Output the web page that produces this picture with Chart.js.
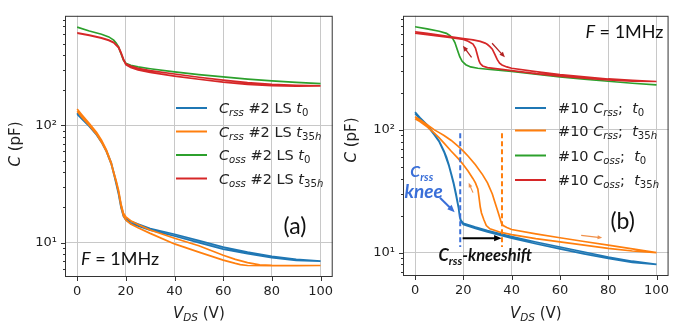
<!DOCTYPE html>
<html>
<head>
<meta charset="utf-8">
<script src="https://cdn.jsdelivr.net/npm/chart.js@4.4.0/dist/chart.umd.min.js"></script>
<style>
  body { margin: 0; background: #fff; }
  #wrap { position: relative; width: 676px; height: 322px; }
  .panel { position: absolute; top: 0; width: 340px; height: 322px; }
</style>
</head>
<body>
<div id="wrap">
  <div class="panel" style="left:0"><canvas id="chartA" width="340" height="322"></canvas></div>
  <div class="panel" style="left:336px"><canvas id="chartB" width="340" height="322"></canvas></div>
</div>
<script>
// tick values
const xTicks = [0, 20, 40, 60, 80, 100];
const yMajor = [10, 100];
const yMinor = [5, 6, 7, 8, 9, 20, 30, 40, 50, 60, 70, 80, 90, 200, 300, 400, 500, 600, 700, 800];

// panel (a): device #2 LS, each sweep goes up to 100 V and back
const aCrss0V = [0, 2, 5, 8, 10, 12, 14, 15, 16, 17, 18, 19, 20, 22, 25, 30, 40, 50, 60, 70, 80, 90, 100,
                 90, 80, 70, 60, 50, 40, 30, 25, 22, 20, 19, 18, 17, 16, 15, 14, 12, 10, 8, 5, 2, 0];
const aCrss0C = [128, 115, 99, 84, 73, 61, 48, 40, 33, 27, 21, 17.5, 16, 15.2, 14.4, 13.2, 11.8, 10.4, 9.15, 8.3, 7.65, 7.2, 6.95,
                 7.05, 7.45, 8.05, 8.8, 10.0, 11.4, 12.8, 13.9, 14.6, 15.6, 16.8, 20, 26, 32, 39, 47, 60, 72, 83, 98, 113, 125];
const aCrss35V = [0, 2, 5, 8, 10, 12, 14, 15, 16, 17, 18, 19, 20, 22, 25, 30, 40, 50, 60, 65, 70, 75, 80, 90, 100,
                  90, 80, 70, 67, 65, 60, 50, 40, 30, 25, 22, 20, 19, 18, 17, 16, 15, 14, 12, 10, 8, 5, 2, 0];
const aCrss35C = [138, 123, 104, 87, 75, 62, 48, 40, 34, 28, 21.5, 17.8, 16.6, 15.4, 14.3, 12.8, 10.9, 9.4, 7.8, 7.2, 6.75, 6.45, 6.4, 6.38, 6.38,
                  6.35, 6.35, 6.38, 6.5, 6.65, 7.1, 8.3, 9.75, 12.0, 13.4, 14.4, 15.6, 17, 20.5, 27, 33, 39, 47, 60, 72, 84, 100, 117, 132];
const aCoss0V = [0, 5, 10, 13, 15, 16, 17, 18, 19, 20, 22, 25, 30, 40, 50, 60, 70, 80, 90, 100];
const aCoss0C = [690, 640, 600, 570, 535, 505, 468, 412, 362, 340, 326, 316, 305, 287, 272, 260, 249, 240, 233, 228];
const aCoss35V = [0, 5, 10, 13, 15, 17, 18, 19, 20, 22, 25, 30, 40, 50, 60, 70, 80, 90, 100,
                  90, 80, 70, 60, 50, 40, 30, 25, 22, 20, 19, 18, 17, 15, 13, 10, 5, 0];
const aCoss35C = [618, 590, 560, 535, 512, 468, 420, 370, 336, 322, 308, 294, 275, 258, 244, 232, 224, 220, 218,
                  217, 219, 224, 234, 248, 264, 284, 298, 312, 330, 365, 415, 462, 508, 532, 556, 586, 614];

// panel (b): device #10
const bCrss0V = [0, 2, 5, 8, 10, 12, 13, 14, 15, 16, 17, 18, 18.5, 19, 20, 25, 30, 40, 50, 60, 70, 80, 90, 100,
                 90, 80, 70, 60, 50, 40, 30, 25, 20, 19, 18.5, 18, 17, 16, 15, 14, 12, 10, 8, 5, 2, 0];
const bCrss0C = [140, 126, 110, 92, 81, 67, 60, 52, 44, 37, 30, 23.5, 19.8, 18.3, 17.3, 16.1, 15.1, 13.5, 12.2, 11.1, 10.1, 9.2, 8.5, 8.0,
                 8.3, 8.95, 9.75, 10.7, 11.8, 13.1, 14.7, 15.7, 16.9, 17.9, 19.5, 23, 29, 36, 43, 51, 66, 80, 91, 108, 123, 136];
const bCrss35V = [0, 2, 5, 8, 10, 12, 15, 18, 20, 22, 25, 28, 30, 32, 33, 34, 35, 35.8, 36.5, 38, 40, 50, 60, 70, 80, 90, 100,
                  90, 80, 70, 60, 50, 40, 35, 31, 29.5, 28.5, 27.5, 27, 26.5, 26, 25, 24, 22, 20, 18, 15, 12, 10, 8, 5, 2, 0];
const bCrss35C = [128, 121, 110, 100, 95, 90, 82, 73, 67, 61, 52, 43, 37, 30, 26, 22.5, 19.5, 17.3, 16.6, 16.0, 15.4, 14.2, 13.2, 12.3, 11.5, 10.7, 10.0,
                  10.3, 10.8, 11.5, 12.2, 13.0, 14.0, 14.7, 15.6, 16.6, 18.5, 21, 23.5, 28, 33, 37, 40, 46, 52, 58, 67, 78, 86, 94, 106, 117, 123];
const bCoss0V = [0, 5, 10, 13, 14.5, 15.5, 16.5, 17.5, 18.5, 19.5, 21, 23, 26, 30, 40, 50, 60, 70, 80, 90, 100];
const bCoss0C = [693, 665, 637, 612, 585, 560, 515, 450, 395, 362, 340, 326, 318, 312, 300, 285, 270, 259, 249, 240, 233];
const bCoss35V = [0, 5, 10, 15, 20, 24, 27, 29, 30, 31, 32, 33, 34, 35, 36, 38, 40, 50, 60, 70, 80, 90, 100,
                  90, 80, 70, 60, 50, 40, 35, 30, 28, 27, 26.5, 26, 25.5, 25, 24, 22, 20, 15, 10, 5, 0];
const bCoss35C = [629, 612, 592, 574, 556, 542, 527, 510, 496, 477, 455, 415, 375, 350, 338, 326, 318, 298, 282, 270, 260, 253, 248,
                  250, 256, 264, 274, 287, 304, 313, 322, 332, 347, 365, 395, 430, 465, 500, 528, 546, 565, 582, 598, 614];

const blue = '#1f77b4', orange = '#ff7f0e', green = '#2ca02c', red = '#d62728';
const gridColor = '#c8c8c8';

Chart.defaults.font.family = 'DejaVu Sans';

// draws text made of pieces: [text, flags] with i = italic, b = bold, s = subscript
function richText(ctx, parts, x, y, size, family, align) {
    const fontFor = function (f) {
        return (f.includes('i') ? 'italic ' : '') + (f.includes('b') ? 'bold ' : '') +
            (f.includes('s') ? size * 0.7 : size) + 'px "' + family + '"';
    };
    let w = 0;
    parts.forEach(function (p) { ctx.font = fontFor(p[1]); w += ctx.measureText(p[0]).width; });
    let cx = align === 'center' ? x - w / 2 : align === 'right' ? x - w : x;
    ctx.textAlign = 'left';
    ctx.textBaseline = 'alphabetic';
    parts.forEach(function (p) {
        ctx.font = fontFor(p[1]);
        ctx.fillText(p[0], cx, y + (p[1].includes('s') ? size * 0.22 : 0));
        cx += ctx.measureText(p[0]).width;
    });
}

function arrow(ctx, x1, y1, x2, y2, color, width, head) {
    const ang = Math.atan2(y2 - y1, x2 - x1);
    ctx.strokeStyle = color;
    ctx.fillStyle = color;
    ctx.lineWidth = width;
    ctx.setLineDash([]);
    ctx.beginPath();
    ctx.moveTo(x1, y1);
    ctx.lineTo(x2 - Math.cos(ang) * head * 0.8, y2 - Math.sin(ang) * head * 0.8);
    ctx.stroke();
    ctx.beginPath();
    ctx.moveTo(x2, y2);
    ctx.lineTo(x2 - head * Math.cos(ang - 0.4), y2 - head * Math.sin(ang - 0.4));
    ctx.lineTo(x2 - head * Math.cos(ang + 0.4), y2 - head * Math.sin(ang + 0.4));
    ctx.closePath();
    ctx.fill();
}

function makePanel(canvasId, cfg) {
    const decor = {
        id: 'decor',
        afterDraw: function (chart) {
            const ctx = chart.ctx, a = chart.chartArea;
            const xs = chart.scales.x, ys = chart.scales.y;
            ctx.save();
            // tick marks
            ctx.strokeStyle = '#333';
            ctx.lineWidth = 1;
            ctx.beginPath();
            xTicks.forEach(function (v) {
                const px = Math.round(xs.getPixelForValue(v)) + 0.5;
                ctx.moveTo(px, a.bottom);
                ctx.lineTo(px, a.bottom + 4);
            });
            ys.ticks.forEach(function (t) {
                const py = Math.round(ys.getPixelForValue(t.value)) + 0.5;
                ctx.moveTo(a.left, py);
                ctx.lineTo(a.left - (yMajor.includes(t.value) ? 4 : 2), py);
            });
            ctx.stroke();
            // frame
            ctx.strokeStyle = '#333';
            ctx.strokeRect(a.left + 0.5, a.top + 0.5, a.right - a.left - 1, a.bottom - a.top - 1);

            // axis titles
            ctx.fillStyle = '#222';
            richText(ctx, [['V', 'i'], ['DS', 'is'], [' (V)', '']], (a.left + a.right) / 2, 318, 15, 'DejaVu Sans', 'center');
            ctx.save();
            ctx.translate(20, cfg.yTitleY);
            ctx.rotate(-Math.PI / 2);
            richText(ctx, [['C', 'i'], [' (pF)', '']], 0, 0, 15, 'DejaVu Sans', 'center');
            ctx.restore();

            // legend
            cfg.legend.forEach(function (row, i) {
                const y = cfg.legendY[i];
                ctx.strokeStyle = cfg.series[i].color;
                ctx.lineWidth = 2;
                ctx.beginPath();
                ctx.moveTo(cfg.legendX, y);
                ctx.lineTo(cfg.legendX + 31, y);
                ctx.stroke();
                ctx.fillStyle = '#222';
                richText(ctx, row, cfg.legendX + 43, y + 5, 14.5, 'DejaVu Sans', 'left');
            });

            if (cfg.extras) cfg.extras(chart, ctx, function (v) { return xs.getPixelForValue(v); },
                function (c) { return ys.getPixelForValue(c); });
            ctx.restore();
        }
    };

    return new Chart(document.getElementById(canvasId), {
        type: 'scatter',
        data: {
            datasets: cfg.series.map(function (s, i) {
                return {
                    data: s.v.map(function (v, k) { return { x: v, y: s.c[k] }; }),
                    borderColor: s.color,
                    backgroundColor: s.color,
                    borderWidth: 1.7,
                    pointRadius: 0,
                    showLine: true,
                    fill: false,
                    tension: 0,
                    order: cfg.series.length - i
                };
            })
        },
        options: {
            responsive: false,
            animation: false,
            devicePixelRatio: 1,
            layout: { padding: { left: 0, top: cfg.top, right: 340 - cfg.right, bottom: 0 } },
            plugins: { legend: { display: false }, tooltip: { enabled: false } },
            scales: {
                x: {
                    type: 'linear',
                    min: -5,
                    max: 105,
                    afterBuildTicks: function (s) { s.ticks = xTicks.map(function (v) { return { value: v }; }); },
                    afterFit: function (s) { s.height = 322 - cfg.bottom; },
                    grid: { color: gridColor, drawTicks: false, lineWidth: 1 },
                    border: { display: false },
                    ticks: { padding: 7, color: '#222', font: { size: 13 }, maxRotation: 0, autoSkip: false }
                },
                y: {
                    type: 'logarithmic',
                    min: cfg.yMin,
                    max: cfg.yMax,
                    afterBuildTicks: function (s) {
                        s.ticks = yMinor.concat(yMajor)
                            .filter(function (v) { return v >= cfg.yMin && v <= cfg.yMax; })
                            .sort(function (p, q) { return p - q; })
                            .map(function (v) { return { value: v }; });
                    },
                    afterFit: function (s) { s.width = cfg.left; },
                    grid: {
                        color: function (c) {
                            return c.tick && yMajor.includes(c.tick.value) ? gridColor : 'rgba(0,0,0,0)';
                        },
                        drawTicks: false
                    },
                    border: { display: false },
                    ticks: {
                        autoSkip: false,
                        padding: 8,
                        color: '#222',
                        font: { size: 13 },
                        callback: function (v) { return v === 10 ? '10¹' : v === 100 ? '10²' : ''; }
                    }
                }
            }
        },
        plugins: [decor]
    });
}

makePanel('chartA', {
    left: 65, right: 339, top: 11, bottom: 277,
    yMin: 5.09, yMax: 863, yTitleY: 144,
    series: [
        { v: aCrss0V, c: aCrss0C, color: blue },
        { v: aCrss35V, c: aCrss35C, color: orange },
        { v: aCoss0V, c: aCoss0C, color: green },
        { v: aCoss35V, c: aCoss35C, color: red }
    ],
    legendX: 176,
    legendY: [108, 131.5, 155, 178.5],
    legend: [
        [['C', 'i'], ['rss', 'is'], [' #2 LS ', ''], ['t', 'i'], ['0', 's']],
        [['C', 'i'], ['rss', 'is'], [' #2 LS ', ''], ['t', 'i'], ['35', 's'], ['h', 'is']],
        [['C', 'i'], ['oss', 'is'], [' #2 LS ', ''], ['t', 'i'], ['0', 's']],
        [['C', 'i'], ['oss', 'is'], [' #2 LS ', ''], ['t', 'i'], ['35', 's'], ['h', 'is']]
    ],
    extras: function (chart, ctx, X, Y) {
        ctx.fillStyle = '#111';
        richText(ctx, [['(a)', '']], X(89.5), Y(11.9), 23, 'Lato', 'center');
        richText(ctx, [['F', 'i'], [' = 1MHz', '']], X(1.6), Y(6.47), 18, 'Lato', 'left');
    }
});

makePanel('chartB', {
    left: 67, right: 338, top: 13, bottom: 276,
    yMin: 6.44, yMax: 851, yTitleY: 140,
    series: [
        { v: bCrss0V, c: bCrss0C, color: blue },
        { v: bCrss35V, c: bCrss35C, color: orange },
        { v: bCoss0V, c: bCoss0C, color: green },
        { v: bCoss35V, c: bCoss35C, color: red }
    ],
    legendX: 179,
    legendY: [108, 130.5, 155.5, 180],
    legend: [
        [['#10 ', ''], ['C', 'i'], ['rss', 'is'], [';  ', ''], ['t', 'i'], ['0', 's']],
        [['#10 ', ''], ['C', 'i'], ['rss', 'is'], [';  ', ''], ['t', 'i'], ['35', 's'], ['h', 'is']],
        [['#10 ', ''], ['C', 'i'], ['oss', 'is'], [';  ', ''], ['t', 'i'], ['0', 's']],
        [['#10 ', ''], ['C', 'i'], ['oss', 'is'], [';  ', ''], ['t', 'i'], ['35', 's'], ['h', 'is']]
    ],
    extras: function (chart, ctx, X, Y) {
        const kneeBlue = '#3a6fd8';
        // knee markers
        ctx.lineWidth = 2;
        ctx.setLineDash([5, 3]);
        ctx.strokeStyle = kneeBlue;
        ctx.beginPath();
        ctx.moveTo(X(18.7), Y(94));
        ctx.lineTo(X(18.7), Y(11.1));
        ctx.stroke();
        ctx.strokeStyle = orange;
        ctx.beginPath();
        ctx.moveTo(X(36), Y(94));
        ctx.lineTo(X(36), Y(11.1));
        ctx.stroke();
        ctx.setLineDash([]);

        arrow(ctx, X(19.7), Y(13.1), X(35.8), Y(13.1), '#000', 2, 8);
        arrow(ctx, X(10.3), Y(28.0), X(16.4), Y(21.3), kneeBlue, 2, 8);
        arrow(ctx, X(23.4), Y(390), X(19.8), Y(484), '#b22222', 1.3, 6);
        arrow(ctx, X(31.9), Y(508), X(37.2), Y(390), '#b22222', 1.3, 6);
        arrow(ctx, X(24.0), Y(30.8), X(22.2), Y(37.1), '#f0904a', 1.2, 5);
        arrow(ctx, X(68.8), Y(13.8), X(77.5), Y(13.2), '#f0904a', 1.2, 5);

        ctx.fillStyle = kneeBlue;
        richText(ctx, [['C', 'bi'], ['rss', 'bis']], X(-2.0), Y(41.2), 16, 'Lato', 'left');
        richText(ctx, [['knee', 'bi']], X(-4.4), Y(28.1), 19, 'Lato', 'left');
        ctx.fillStyle = '#111';
        richText(ctx, [['C', 'bi'], ['rss', 'bis'], ['-kneeshift', 'bi']], X(9.7), Y(8.55), 16.5, 'Lato', 'left');
        richText(ctx, [['(b)', '']], X(86), Y(15.7), 23, 'Lato', 'center');
        richText(ctx, [['F', 'i'], [' = 1MHz', '']], X(102.9), Y(565), 18, 'Lato', 'right');
    }
});
</script>
</body>
</html>
